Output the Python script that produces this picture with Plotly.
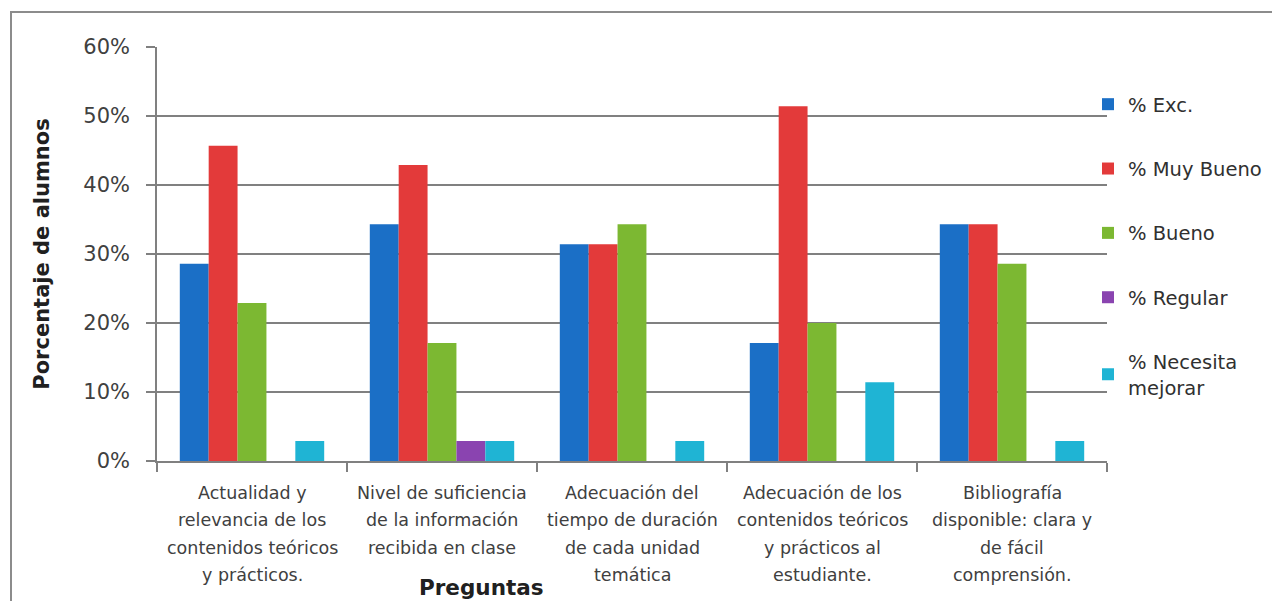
import plotly.graph_objects as go

categories = [
    "Actualidad y<br>relevancia de los<br>contenidos teóricos<br>y prácticos.",
    "Nivel de suficiencia<br>de la información<br>recibida en clase",
    "Adecuación del<br>tiempo de duración<br>de cada unidad<br>temática",
    "Adecuación de los<br>contenidos teóricos<br>y prácticos al<br>estudiante.",
    "Bibliografía<br>disponible: clara y<br>de fácil<br>comprensión.",
]
cat_ids = ["c1", "c2", "c3", "c4", "c5"]

series_names = ["% Exc.", "% Muy Bueno", "% Bueno", "% Regular", "% Necesita<br>mejorar"]
exc = [28.6, 34.3, 31.4, 17.1, 34.3]
muy_bueno = [45.7, 42.9, 31.4, 51.4, 34.3]
bueno = [22.9, 17.1, 34.3, 20.0, 28.6]
regular = [0, 2.9, 0, 0, 0]
necesita = [2.9, 2.9, 2.9, 11.4, 2.9]
series_values = [exc, muy_bueno, bueno, regular, necesita]
colors = ["#1b6fc6", "#e33a3a", "#7cb832", "#8a44b0", "#1fb4d4"]

y_ticks = [0, 10, 20, 30, 40, 50, 60]
y_tick_labels = ["0%", "10%", "20%", "30%", "40%", "50%", "60%"]

FONT = "DejaVu Sans"
TXT = "#404040"

# page body has an 8px margin: plot area spans page x 157..1107, y 47..461
PL, PR, PT, PB = 157, 1107, 47, 461
PW, PH = PR - PL, PB - PT


def px(xp):
    return (xp - PL) / PW


def py(yp):
    return (PB - yp) / PH


fig = go.Figure()
for i, (name, vals) in enumerate(zip(series_names, series_values)):
    fig.add_trace(go.Bar(
        x=cat_ids, y=vals, name=name,
        marker=dict(color=colors[i], line=dict(width=0)),
        legendgroup=f"g{i}",
    ))

# category labels, one annotation per line for Excel-like line spacing
for cid, lab in zip(cat_ids, categories):
    for j, line in enumerate(lab.split("<br>")):
        fig.add_annotation(x=cid, y=0, xref="x", yref="y", text=line,
                           showarrow=False, yanchor="middle", xanchor="center",
                           yshift=-32 - 27.3 * j,
                           font=dict(family=FONT, size=17.5, color=TXT))

fig.add_annotation(x=px(481), y=py(587), xref="paper", yref="paper",
                   text="<b>Preguntas</b>", showarrow=False,
                   yanchor="middle", xanchor="center",
                   font=dict(family=FONT, size=21.5, color="#202020"))

fig.add_shape(type="rect", xref="paper", yref="paper",
              x0=px(11), x1=px(1300),
              y0=py(640), y1=py(12),
              line=dict(color="#8c8c8c", width=2), layer="below")

fig.update_layout(
    width=1272, height=593,
    margin=dict(l=PL - 8, r=1272 - (PL - 8) - PW, t=PT - 8, b=593 - (PT - 8) - PH),
    paper_bgcolor="white", plot_bgcolor="white",
    barmode="group", bargap=0.24, bargroupgap=0,
    font=dict(family=FONT, color=TXT),
    showlegend=True,
    legend=dict(x=px(1088), y=py(85), xanchor="left", yanchor="top",
                font=dict(family=FONT, size=19.5, color="#303030"),
                tracegroupgap=36, itemwidth=30, bgcolor="rgba(0,0,0,0)"),
    xaxis=dict(
        showticklabels=False, ticks="outside", tickson="boundaries", ticklen=9,
        tickcolor="#808080", tickwidth=1.5,
        showline=True, linecolor="#808080", linewidth=1.5, showgrid=False,
    ),
    yaxis=dict(
        range=[0, 60], tickmode="array", tickvals=y_ticks, ticktext=y_tick_labels,
        ticks="outside", ticklen=9, tickcolor="#808080", tickwidth=1.5,
        ticklabelstandoff=12,
        showline=True, linecolor="#808080", linewidth=1.5,
        showgrid=True, gridcolor="#808080", gridwidth=1.5,
        tickfont=dict(family=FONT, size=21, color=TXT),
        title=dict(text="<b>Porcentaje de alumnos</b>", standoff=28,
                   font=dict(family=FONT, size=21, color="#202020")),
        zeroline=False,
    ),
)

fig.write_html("out.html")
